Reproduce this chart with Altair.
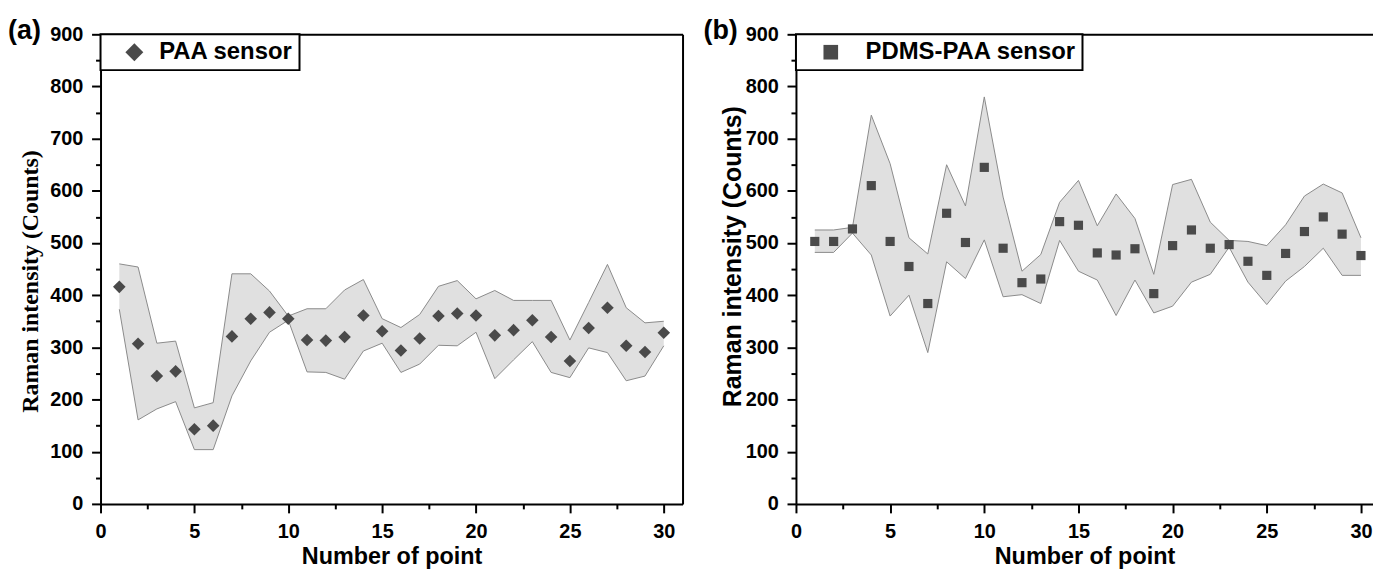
import altair as alt
import pandas as pd

# ---------------- data ----------------
point_no = list(range(1, 31))

paa_mean = [416, 307, 245, 254, 143, 150, 321, 355, 367, 355, 314, 313, 320, 361, 331,
            294, 317, 360, 365, 361, 323, 333, 352, 320, 274, 337, 376, 303, 291, 328]
paa_hi = [460, 454, 308, 312, 184, 194, 441, 441, 408, 360, 374, 374, 410, 430, 355,
          338, 363, 417, 428, 393, 409, 390, 390, 390, 314, 386, 459, 376, 347, 350]
paa_lo = [373, 161, 182, 196, 104, 104, 207, 274, 329, 352, 253, 252, 239, 293, 308,
          252, 268, 304, 303, 329, 240, 276, 311, 252, 242, 299, 290, 236, 245, 303]

pdms_mean = [503, 503, 527, 610, 503, 455, 384, 557, 501, 645, 490, 424, 431, 541, 534,
             481, 477, 489, 403, 495, 525, 490, 497, 465, 438, 480, 522, 550, 517, 476]
pdms_hi = [525, 525, 530, 745, 652, 510, 479, 650, 571, 780, 588, 446, 478, 578, 620,
           533, 594, 547, 440, 612, 622, 540, 505, 503, 495, 535, 590, 613, 596, 510]
pdms_lo = [482, 482, 519, 477, 360, 400, 290, 464, 432, 506, 397, 401, 384, 505, 446,
           429, 361, 429, 366, 379, 425, 440, 492, 425, 382, 427, 455, 490, 438, 438]

x_major_ticks = [0, 5, 10, 15, 20, 25, 30]
x_minor_ticks = [2.5, 7.5, 12.5, 17.5, 22.5, 27.5]
y_major_ticks = [0, 100, 200, 300, 400, 500, 600, 700, 800, 900]
y_minor_ticks = [50, 150, 250, 350, 450, 550, 650, 750, 850]

FONT = "Liberation Sans"
SERIF = "Liberation Serif"
POINT_COLOR = "#4a4a4a"
BAND_FILL = "#e0e0e0"
BAND_LINE = "#8a8a8a"
PLOT_H = 472


def panel(mean, lo, hi, label, shape, size, legend_size, tag, width, xmax,
          title_font, title_size, title_pad, title_y, with_right,
          sym_offset, lab_offset):
    df = pd.DataFrame({"x": point_no, "mean": mean, "lo": lo, "hi": hi,
                       "series": [label] * len(point_no)})
    xs = alt.Scale(domain=[0, xmax], nice=False, zero=False)
    ys = alt.Scale(domain=[0, 900], nice=False, zero=True)

    x_major = alt.Axis(values=x_major_ticks, orient="bottom", grid=False,
                       tickSize=9, tickWidth=2, tickColor="black",
                       domainWidth=2, domainColor="black",
                       labelFont=FONT, labelFontSize=20, labelFontWeight="bold",
                       labelColor="black", labelPadding=9, labelFlush=False,
                       labelOverlap=False,
                       title="Number of point", titleFont=FONT, titleFontSize=23.5,
                       titleFontWeight="bold", titleColor="black", titlePadding=3)
    y_major = alt.Axis(values=y_major_ticks, orient="left", grid=False,
                       tickSize=9, tickWidth=2, tickColor="black",
                       domainWidth=2, domainColor="black",
                       labelFont=FONT, labelFontSize=20, labelFontWeight="bold",
                       labelColor="black", labelPadding=8.7, labelOverlap=False,
                       labelFlush=False,
                       title="Raman intensity (Counts)", titleFont=title_font,
                       titleFontSize=title_size, titleFontWeight="bold",
                       titleColor="black", titlePadding=title_pad, titleY=title_y)
    x_minor = alt.Axis(values=x_minor_ticks, orient="bottom", grid=False,
                       tickSize=5, tickWidth=2, tickColor="black", domain=False,
                       labels=False, title=None)
    y_minor = alt.Axis(values=y_minor_ticks, orient="left", grid=False,
                       tickSize=5, tickWidth=2, tickColor="black", domain=False,
                       labels=False, title=None)
    x_top = alt.Axis(orient="top", grid=False, ticks=False, labels=False,
                     domainWidth=2, domainColor="black", title=None)
    y_right = alt.Axis(orient="right", grid=False, ticks=False, labels=False,
                       domainWidth=2, domainColor="black", title=None)

    base = alt.Chart(df)
    band = base.mark_area(color=BAND_FILL, opacity=1).encode(
        x=alt.X("x:Q", scale=xs, axis=x_major),
        y=alt.Y("lo:Q", scale=ys, axis=y_major),
        y2="hi:Q",
    )
    upper = base.mark_line(color=BAND_LINE, strokeWidth=1).encode(
        x=alt.X("x:Q", scale=xs, axis=x_minor),
        y=alt.Y("hi:Q", scale=ys, axis=y_minor),
    )
    lower = base.mark_line(color=BAND_LINE, strokeWidth=1).encode(
        x=alt.X("x:Q", scale=xs, axis=x_top),
        y=alt.Y("lo:Q", scale=ys, axis=y_right if with_right else None),
    )
    pts = base.mark_point(filled=True, opacity=1, size=size, color=POINT_COLOR,
                          strokeWidth=0).encode(
        x=alt.X("x:Q", scale=xs, axis=None),
        y=alt.Y("mean:Q", scale=ys, axis=None),
        shape=alt.Shape("series:N",
                        scale=alt.Scale(domain=[label], range=[shape]),
                        legend=alt.Legend(title=None, orient="none", legendX=0,
                                          legendY=0, padding=6,
                                          strokeColor="black",
                                          fillColor="white",
                                          symbolSize=legend_size,
                                          symbolOffset=sym_offset,
                                          labelOffset=lab_offset,
                                          symbolFillColor=POINT_COLOR,
                                          symbolStrokeColor=POINT_COLOR,
                                          symbolStrokeWidth=0,
                                          labelFont=FONT, labelFontSize=24,
                                          labelFontWeight="bold",
                                          labelColor="black", labelLimit=400)),
    )
    tag_layer = alt.Chart(pd.DataFrame({"t": [tag]})).mark_text(
        align="left", baseline="middle", font=FONT, fontSize=27,
        fontWeight="bold", color="black").encode(
        text="t:N", x=alt.value(-93), y=alt.value(-3))

    return alt.layer(band, upper, lower, pts, tag_layer).resolve_axis(
        x="independent", y="independent").properties(width=width, height=PLOT_H)


chart_a = panel(paa_mean, paa_lo, paa_hi, "PAA sensor", "diamond", 160, 324, "(a)",
                585, 31.0, SERIF, 24, 7, 248, True, 16, 13)
chart_b = panel(pdms_mean, pdms_lo, pdms_hi, "PDMS-PAA sensor", "square", 85, 216,
                "(b)", 580, 30.64, FONT, 25, 0, 223, False, 17, 23)

chart = alt.hconcat(chart_a, chart_b, spacing=21).resolve_scale(
    shape="independent").resolve_legend(shape="independent").properties(
    padding={"left": 0, "top": 8, "right": 0, "bottom": 0},
    background="white",
).configure_view(stroke=None).configure_legend(strokeWidth=2)

chart.save("out.html", embed_options={"renderer": "svg", "actions": False})
